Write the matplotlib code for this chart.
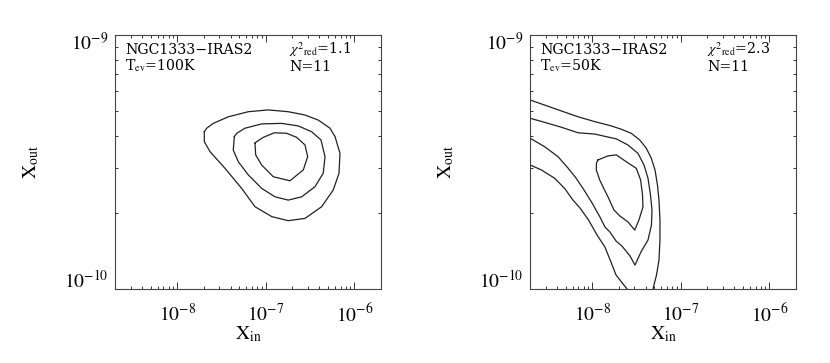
import numpy as np
import matplotlib
matplotlib.use("Agg")
import matplotlib.pyplot as plt
from matplotlib.ticker import LogLocator, NullFormatter, FixedLocator
from matplotlib.transforms import ScaledTranslation

plt.rcParams['font.family'] = ['STIXGeneral', 'DejaVu Serif']
plt.rcParams['mathtext.fontset'] = 'stix'

# ---- data: contour lines (log10 X_in, log10 X_out) ----
# Left panel (T_ev = 100 K)
L_outer_x = [-7.694, -7.694, -7.630, -7.460, -7.272, -7.122, -6.933, -6.746, -6.557, -6.369,
             -6.238, -6.173, -6.162, -6.218, -6.275, -6.407, -6.557, -6.746, -6.972, -7.197,
             -7.423, -7.593, -7.667]
L_outer_y = [-9.381, -9.420, -9.459, -9.525, -9.604, -9.676, -9.715, -9.731, -9.722, -9.676,
             -9.610, -9.544, -9.466, -9.400, -9.367, -9.335, -9.315, -9.302, -9.295, -9.302,
             -9.322, -9.348, -9.367]
L_mid_x = [-7.355, -7.367, -7.310, -7.197, -7.046, -6.896, -6.746, -6.594, -6.444, -6.351,
           -6.331, -6.377, -6.482, -6.633, -6.820, -7.046, -7.235, -7.328]
L_mid_y = [-9.400, -9.453, -9.499, -9.551, -9.604, -9.637, -9.650, -9.637, -9.597, -9.544,
           -9.479, -9.413, -9.381, -9.358, -9.348, -9.350, -9.367, -9.387]
L_in_x = [-7.122, -7.114, -7.046, -6.915, -6.727, -6.576, -6.527, -6.557, -6.651, -6.764,
          -6.904, -7.028, -7.103]
L_in_y = [-9.426, -9.472, -9.512, -9.558, -9.574, -9.531, -9.479, -9.433, -9.403, -9.387,
          -9.385, -9.403, -9.420]

# Right panel (T_ev = 50 K)
R_a1_x = [-8.699, -8.536, -8.349, -8.160, -7.972, -7.784, -7.672, -7.559, -7.464, -7.389,
          -7.333, -7.291, -7.263, -7.246, -7.235, -7.235, -7.246, -7.274, -7.314]
R_a1_y = [-9.256, -9.276, -9.299, -9.322, -9.341, -9.358, -9.371, -9.387, -9.413, -9.446,
          -9.485, -9.531, -9.591, -9.650, -9.728, -9.807, -9.886, -9.945, -10.0]
R_a2_x = [-8.699, -8.575, -8.424, -8.311, -8.217, -8.138, -8.042, -7.946, -7.856, -7.788,
          -7.731, -7.607]
R_a2_y = [-9.512, -9.531, -9.564, -9.604, -9.650, -9.681, -9.728, -9.787, -9.835, -9.894,
          -9.945, -10.0]
R_b_x = [-8.699, -8.536, -8.349, -8.160, -7.972, -7.728, -7.596, -7.483, -7.415, -7.370,
         -7.342, -7.325, -7.331, -7.370, -7.449, -7.517, -7.573, -7.664, -7.731, -7.799,
         -7.856, -7.912, -8.002, -8.093, -8.183, -8.273, -8.386, -8.536, -8.699]
R_b_y = [-9.328, -9.344, -9.363, -9.385, -9.390, -9.409, -9.433, -9.466, -9.512, -9.564,
         -9.630, -9.689, -9.748, -9.807, -9.854, -9.906, -9.870, -9.831, -9.811, -9.776,
         -9.756, -9.717, -9.661, -9.610, -9.563, -9.524, -9.479, -9.440, -9.407]
R_c_x = [-7.935, -7.822, -7.728, -7.615, -7.502, -7.453, -7.432, -7.427, -7.472, -7.520,
         -7.596, -7.686, -7.754, -7.822, -7.878, -7.915, -7.954, -7.952]
R_c_y = [-9.492, -9.476, -9.472, -9.499, -9.525, -9.571, -9.630, -9.677, -9.728, -9.768,
         -9.736, -9.713, -9.689, -9.637, -9.598, -9.571, -9.531, -9.504]

x_limits = [2e-9, 2e-6]
y_limits = [1e-10, 1e-9]
x_major = [1e-8, 1e-7, 1e-6]
y_major = [1e-10, 1e-9]

panels = [
    dict(lines=[(L_outer_x, L_outer_y, True), (L_mid_x, L_mid_y, True), (L_in_x, L_in_y, True)],
         src="NGC1333\u2212IRAS2", tev=r"T$_{\rm ev}$=100K", chi=r"$\chi^{2}{}_{\rm red}$=1.1",
         n="N=11", chix=0.655),
    dict(lines=[(R_a1_x, R_a1_y, False), (R_a2_x, R_a2_y, False), (R_b_x, R_b_y, False),
                (R_c_x, R_c_y, True)],
         src="NGC1333\u2212IRAS2", tev=r"T$_{\rm ev}$=50K", chi=r"$\chi^{2}{}_{\rm red}$=2.3",
         n="N=11", chix=0.665),
]

W, H = 830, 363
fig = plt.figure(figsize=(W / 100, H / 100), dpi=100)
ax_left_px = [115.3, 530.3]
ax_w_px, top_px, bot_px = 265.7, 35, 289
txt_font = ['DejaVu Serif']
txt_size = 10.2

for i, p in enumerate(panels):
    ax = fig.add_axes([ax_left_px[i] / W, 1 - bot_px / H, ax_w_px / W, (bot_px - top_px) / H])
    ax.set_xscale('log')
    ax.set_yscale('log')
    for lx, ly, closed in p['lines']:
        xs = list(10.0 ** np.array(lx))
        ys = list(10.0 ** np.array(ly))
        if closed:
            xs.append(xs[0]); ys.append(ys[0])
        ax.plot(xs, ys, color='#222222', lw=0.9)
    ax.set_xlim(x_limits)
    ax.set_ylim(y_limits)
    ax.xaxis.set_major_locator(FixedLocator(x_major))
    ax.yaxis.set_major_locator(FixedLocator(y_major))
    ax.xaxis.set_minor_locator(LogLocator(base=10, subs=np.arange(2, 10), numticks=20))
    ax.yaxis.set_minor_locator(LogLocator(base=10, subs=np.arange(2, 10), numticks=20))
    ax.xaxis.set_minor_formatter(NullFormatter())
    ax.yaxis.set_minor_formatter(NullFormatter())
    ax.tick_params(which='both', direction='in', top=True, right=True, color='#333333', width=0.7)
    ax.tick_params(which='major', length=5, labelsize=14)
    ax.tick_params(which='minor', length=2.5)
    ax.tick_params(axis='x', which='major', pad=10)
    ax.tick_params(axis='y', which='major', pad=5)
    for s in ax.spines.values():
        s.set_color('#444444')
        s.set_linewidth(0.8)
    yt = ax.yaxis.get_major_ticks()
    # 10^-10 label sits just above the bottom, 10^-9 label just below the top
    yt[0].label1.set_va('baseline')
    yt[0].label1.set_transform(yt[0].label1.get_transform() + ScaledTranslation(0, 1 / 100, fig.dpi_scale_trans))
    yt[1].label1.set_va('baseline')
    yt[1].label1.set_transform(yt[1].label1.get_transform() + ScaledTranslation(0, -15 / 100, fig.dpi_scale_trans))

    ax.set_xlabel(r"X$_{\rm in}$", fontsize=14)
    ax.set_ylabel(r"X$_{\rm out}$", fontsize=14)
    ax.xaxis.set_label_coords(0.5, -0.14)
    ax.yaxis.set_label_coords(-0.28, 0.5)

    ax.text(0.037, 0.927, p['src'], transform=ax.transAxes, fontsize=txt_size, va='baseline', ha='left', family=txt_font)
    ax.text(0.037, 0.860, p['tev'], transform=ax.transAxes, fontsize=txt_size, va='baseline', ha='left', family=txt_font)
    ax.text(p['chix'], 0.927, p['chi'], transform=ax.transAxes, fontsize=txt_size, va='baseline', ha='left', family=txt_font)
    ax.text(p['chix'], 0.860, p['n'], transform=ax.transAxes, fontsize=txt_size, va='baseline', ha='left', family=txt_font)

fig.savefig("out.png", dpi=100)
